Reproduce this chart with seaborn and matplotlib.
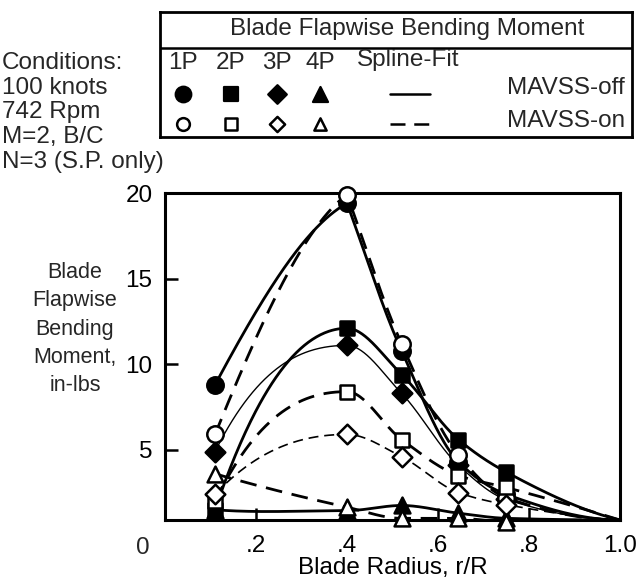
import numpy as np
import pandas as pd
import matplotlib
matplotlib.use("Agg")
import matplotlib.pyplot as plt
import seaborn as sns

# ---------------------------------------------------------------
# data (blade flapwise bending moment, in-lbs)
# ---------------------------------------------------------------
radius = [0.11, 0.40, 0.52, 0.645, 0.75]
tip_radius = 1.0
tip_moment = 0.9          # spline fits close at the tip (axis floor)

p1_off = [8.8, 19.4, 10.8, 4.3, 2.4]
p1_on = [5.9, 19.9, 11.2, 4.7, 2.2]
p2_off = [1.5, 12.1, 9.4, 5.6, 3.7]
p2_on = [2.0, 8.4, 5.6, 3.5, 2.8]
p3_off = [4.9, 11.1, 8.3, 4.1, 2.1]
p3_on = [2.4, 5.9, 4.6, 2.5, 1.8]
p4_off = [1.5, 1.45, 1.75, 1.3, 1.0]
p4_on = [3.6, 1.65, 1.0, 1.0, 0.8]

conditions = ["Conditions:", "100 knots", "742 Rpm", "M=2, B/C", "N=3 (S.P. only)"]
harmonics = ["1P", "2P", "3P", "4P"]
x_ticks = [0.2, 0.4, 0.6, 0.8, 1.0]
x_ticklabels = [".2", ".4", ".6", ".8", "1.0"]
y_ticks = [5, 10, 15, 20]


def spline_fit(x, y, xs, sharp_peak=False):
    # monotone cubic hermite; 1P fits have a pointed peak in the original
    x = np.asarray(x, float)
    y = np.asarray(y, float)
    h = np.diff(x)
    d = np.diff(y) / h
    n = len(x)
    m = np.zeros(n)
    for k in range(1, n - 1):
        if d[k - 1] * d[k] > 0:
            w1 = 2 * h[k] + h[k - 1]
            w2 = h[k] + 2 * h[k - 1]
            m[k] = (w1 + w2) / (w1 / d[k - 1] + w2 / d[k])
    m[0] = ((2 * h[0] + h[1]) * d[0] - h[0] * d[1]) / (h[0] + h[1])
    if np.sign(m[0]) != np.sign(d[0]):
        m[0] = 0
    m[-1] = ((2 * h[-1] + h[-2]) * d[-1] - h[-1] * d[-2]) / (h[-1] + h[-2])
    if np.sign(m[-1]) != np.sign(d[-1]):
        m[-1] = 0
    m_in = m.copy()    # slope arriving at a knot
    m_out = m.copy()   # slope leaving a knot
    if sharp_peak:
        m_out[0] = 1.35 * d[0]
        m_in[1] = 0.4 * d[0]
        m_out[1] = d[1]
        m_in[2] = 0.8 * d[1]
    idx = np.clip(np.searchsorted(x, xs) - 1, 0, n - 2)
    t = (xs - x[idx]) / h[idx]
    h00 = 2 * t**3 - 3 * t**2 + 1
    h10 = t**3 - 2 * t**2 + t
    h01 = -2 * t**3 + 3 * t**2
    h11 = t**3 - t**2
    return (h00 * y[idx] + h10 * h[idx] * m_out[idx]
            + h01 * y[idx + 1] + h11 * h[idx] * m_in[idx + 1])


sns.set_theme(style="white")
plt.rcParams['font.family'] = ['Liberation Sans', 'DejaVu Sans']
FS = 17.5

fig = plt.figure(figsize=(6.36, 5.8), dpi=100)
ax = fig.add_axes([0.2594, 0.1034, 0.7154, 0.5638])

series = [
    ("1P", "off", p1_off, "o", 2.0),
    ("1P", "on", p1_on, "o", 2.0),
    ("2P", "off", p2_off, "s", 2.0),
    ("2P", "on", p2_on, "s", 2.0),
    ("3P", "off", p3_off, "D", 1.0),
    ("3P", "on", p3_on, "D", 1.2),
    ("4P", "off", p4_off, "^", 2.0),
    ("4P", "on", p4_on, "^", 2.0),
]
msize = {"o": 140, "s": 115, "D": 100, "^": 130}

xs = np.linspace(radius[0], tip_radius, 400)
for name, state, vals, mk, lw in series:
    fit = spline_fit(radius + [tip_radius], vals + [tip_moment], xs, sharp_peak=(name == "1P"))
    ls = "-" if state == "off" else (0, (6, 3.5))
    sns.lineplot(x=xs, y=fit, ax=ax, color="black", lw=lw, linestyle=ls,
                 estimator=None, sort=False, zorder=2)

for name, state, vals, mk, lw in series:
    face = "black" if state == "off" else "white"
    sns.scatterplot(x=radius, y=vals, ax=ax, marker=mk, s=msize[mk],
                    facecolor=face, edgecolor="black", linewidth=1.8,
                    zorder=4 if state == "on" else 3, clip_on=False)

ax.set_xlim(0, 1.0)
ax.set_ylim(tip_moment, 20)
ax.set_xticks(x_ticks)
ax.set_xticklabels(x_ticklabels)
ax.set_yticks(y_ticks)
ax.tick_params(axis="both", direction="in", length=9, width=1.8, labelsize=FS,
               colors="black", pad=9, bottom=True, left=True)
ax.tick_params(axis="x", pad=11)
for sp in ax.spines.values():
    sp.set_visible(True)
    sp.set_color("black")
    sp.set_linewidth(2.2)
ax.annotate("0", xy=(0, 0), xycoords="axes fraction", xytext=(-22, -28),
            textcoords="offset pixels", ha="center", va="center", fontsize=FS)
ax.set_xlabel("Blade Radius, r/R", fontsize=FS, labelpad=0, color="black")
ax.set_ylabel("")
fig.text(75 / 636, 1 - 329 / 580, "Blade\nFlapwise\nBending\nMoment,\nin-lbs",
         ha="center", va="center", fontsize=15.5, linespacing=1.45)

# conditions block
for i, line in enumerate(conditions):
    fig.text(2 / 636, 1 - (63 + 24.7 * i) / 580, line, ha="left", va="center", fontsize=FS)

# legend box
lg = fig.add_axes([160 / 636, 1 - 137 / 580, 472 / 636, 125 / 580])
lg.set_xlim(0, 1)
lg.set_ylim(0, 1)
lg.set_xticks([])
lg.set_yticks([])
for sp in lg.spines.values():
    sp.set_visible(True)
    sp.set_color("black")
    sp.set_linewidth(2.0)
lg.axhline(0.712, color="black", lw=1.8)
lg.text(0.523, 0.862, "Blade Flapwise Bending Moment", ha="center", va="center", fontsize=FS)
col_x = [0.049, 0.150, 0.248, 0.339]
for cx, lab, mk in zip(col_x, harmonics, ["o", "s", "D", "^"]):
    lg.text(cx, 0.595, lab, ha="center", va="center", fontsize=FS)
    lg.scatter([cx], [0.345], marker=mk, s=msize[mk] * 0.9, facecolor="black",
               edgecolor="black", linewidth=1.6)
    lg.scatter([cx], [0.105], marker=mk, s=msize[mk] * 0.6, facecolor="white",
               edgecolor="black", linewidth=1.8)
lg.text(0.525, 0.615, "Spline-Fit", ha="center", va="center", fontsize=FS)
lg.plot([0.487, 0.572], [0.345, 0.345], color="black", lw=1.8)
lg.plot([0.487, 0.572], [0.105, 0.105], color="black", lw=1.8, linestyle=(0, (6, 3.5)))
lg.text(0.985, 0.39, "MAVSS-off", ha="right", va="center", fontsize=FS)
lg.text(0.985, 0.125, "MAVSS-on", ha="right", va="center", fontsize=FS)

fig.savefig("out.png", dpi=100)
